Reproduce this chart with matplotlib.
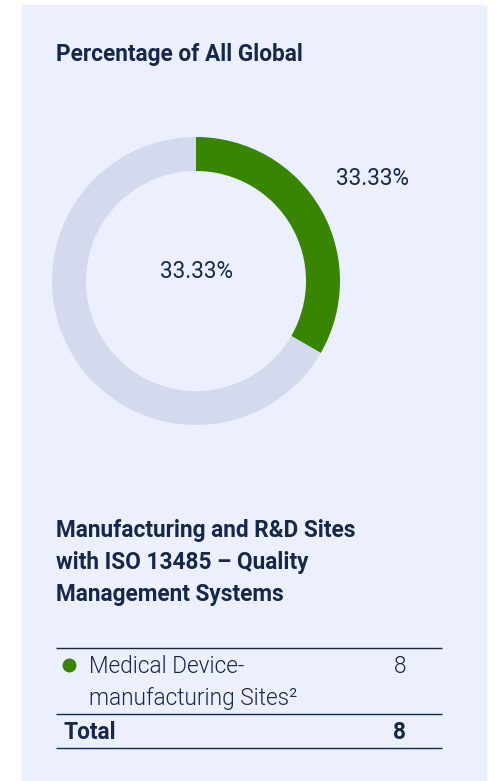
import matplotlib
matplotlib.use("Agg")
import matplotlib.pyplot as plt
from matplotlib.patches import Rectangle

plt.rcParams['font.family'] = ['Roboto', 'DejaVu Sans']

# data
title = "Percentage of All Global"
share_labels = ["Medical Device-manufacturing Sites", "Other"]
share_values = [33.33, 66.67]
ring_colors = ["#378500", "#d4daee"]
heading = ["Manufacturing and R&D Sites", "with ISO 13485 \u2013 Quality", "Management Systems"]
row_label = ["Medical Device-", "manufacturing Sites\u00b2"]
row_value = 8
total_value = 8

navy = "#15284c"
fs = 16.3
W, H = 494, 781
fig = plt.figure(figsize=(W / 100, H / 100), dpi=100)
fig.patch.set_facecolor("white")

bg = fig.add_axes([0, 0, 1, 1])
bg.set_xlim(0, W)
bg.set_ylim(H, 0)
bg.axis("off")
bg.add_patch(Rectangle((22, 5), 464, 780, color="#eceffd", zorder=0))

bg.text(56, 61, title, fontsize=fs, fontweight="bold", color=navy, va="baseline")

# donut
cx, cy, r = 196, 281, 144
pie_ax = fig.add_axes([(cx - r) / W, 1 - (cy + r) / H, 2 * r / W, 2 * r / H])
pie_ax.pie(share_values, colors=ring_colors, startangle=90, counterclock=False,
           radius=1, wedgeprops=dict(width=34 / 144, linewidth=0))
pie_ax.set_xlim(-1, 1)
pie_ax.set_ylim(-1, 1)
pie_ax.axis("off")

bg.text(372, 185, f"{share_values[0]:.2f}%", fontsize=fs, color=navy, ha="center", va="baseline")
bg.text(196, 278, f"{share_values[0]:.2f}%", fontsize=fs, color=navy, ha="center", va="baseline")

for i, line in enumerate(heading):
    bg.text(56, 537 + 32 * i, line, fontsize=fs, fontweight="bold", color=navy, va="baseline")

# table
bg.hlines([648, 714, 748], 56, 442, color=navy, linewidth=1)
bg.plot(69, 665, "o", color=ring_colors[0], markersize=9)
bg.text(89, 673, row_label[0], fontsize=fs, fontweight=300, color=navy, va="baseline")
bg.text(89, 705, row_label[1], fontsize=fs, fontweight=300, color=navy, va="baseline")
bg.text(406, 673, str(row_value), fontsize=fs, fontweight=300, color=navy, ha="right", va="baseline")
bg.text(63, 739, "Total", fontsize=fs, fontweight="bold", color=navy, va="baseline")
bg.text(406, 739, str(total_value), fontsize=fs, fontweight="bold", color=navy, ha="right", va="baseline")

fig.savefig("out.png", dpi=100)
